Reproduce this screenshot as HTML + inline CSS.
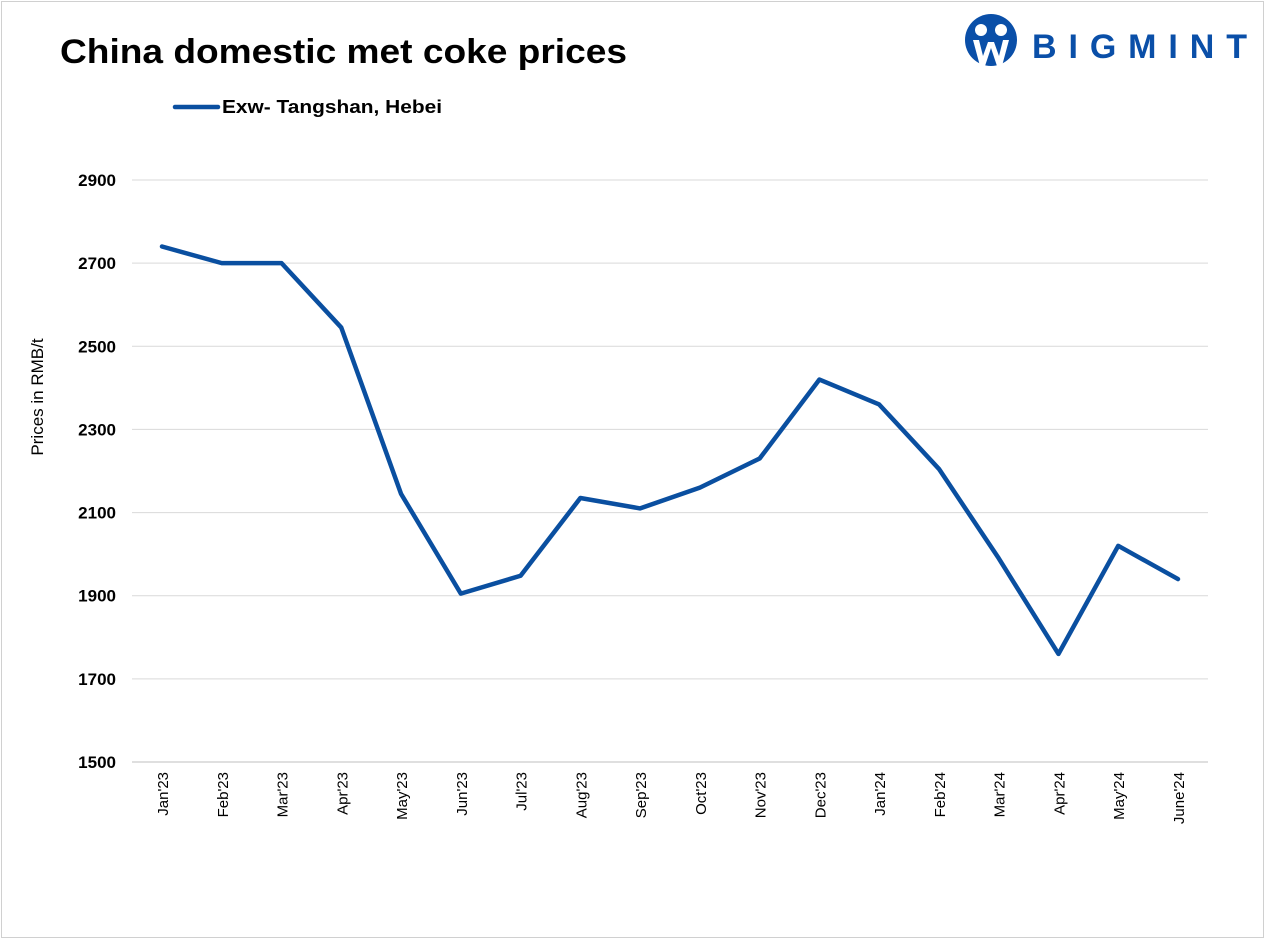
<!DOCTYPE html>
<html><head><meta charset="utf-8"><style>
body{margin:0;background:#fff;}
#c{position:relative;width:1265px;height:939px;overflow:hidden;background:#fff;}
</style></head><body>
<div id="c">
<svg width="1265" height="939" xmlns="http://www.w3.org/2000/svg" font-family="Liberation Sans, sans-serif" id="svg">
<rect x="1.5" y="1.5" width="1262" height="936" fill="#fff" stroke="#d0d0d0"/>
<text x="60" y="63" font-size="34" font-weight="bold" fill="#000" textLength="567" lengthAdjust="spacingAndGlyphs">China domestic met coke prices</text>
<g>
<circle cx="991" cy="40" r="26" fill="#0a4fa8"/>
<circle cx="981" cy="30" r="6" fill="#fff"/>
<circle cx="1001" cy="30" r="6" fill="#fff"/>
<path d="M973 40 L980 66 L985 66 L991 48 L997 66 L1002 66 L1009 40 L1003 40 L999 56 L994 42 L988 42 L983 56 L979 40Z" fill="#fff"/>
<text x="1032" y="58" font-size="34" font-weight="bold" fill="#0a4fa8" textLength="215" lengthAdjust="spacing">BIGMINT</text>
</g>
<g>
<line x1="175" y1="107" x2="218" y2="107" stroke="#0a4fa0" stroke-width="4.5" stroke-linecap="round"/>
<text x="222" y="113" font-size="18" font-weight="bold" fill="#000" textLength="220" lengthAdjust="spacingAndGlyphs">Exw- Tangshan, Hebei</text>
</g>
<text transform="translate(43,397) rotate(-90)" text-anchor="middle" font-size="17" fill="#000">Prices in RMB/t</text>
<g id="grid"></g><g id="xl"></g><g id="line"></g>
</svg>
</div>
<script>
const categories=["Jan'23","Feb'23","Mar'23","Apr'23","May'23","Jun'23","Jul'23","Aug'23","Sep'23","Oct'23","Nov'23","Dec'23","Jan'24","Feb'24","Mar'24","Apr'24","May'24","June'24"];
const prices=[2740,2700,2700,2545,2145,1905,1948,2135,2110,2160,2230,2420,2360,2205,1990,1760,2020,1940];
const yTicks=[1500,1700,1900,2100,2300,2500,2700,2900];
const NS="http://www.w3.org/2000/svg";
const y=v=>762-(v-1500)*(582/1400);
const x=i=>162+i*(1016/17);
function mk(t,a,p){const e=document.createElementNS(NS,t);for(const k in a)e.setAttribute(k,a[k]);p.appendChild(e);return e;}
const g=document.getElementById('grid');
yTicks.forEach(v=>{
 const l=mk('line',{x1:132,x2:1208,y1:y(v),y2:y(v),stroke:v===1500?'#bfbfbf':'#d9d9d9','stroke-width':1},g);
 
 
 const t=mk('text',{x:116,y:y(v)+6,'text-anchor':'end','font-size':17,'font-weight':'bold',fill:'#000'},g);
 t.textContent=v;
 
 
});
const xl=document.getElementById('xl');
categories.forEach((c,i)=>{
 const t=mk('text',{transform:`translate(${x(i)+6},772) rotate(-90)`,'text-anchor':'end','font-size':15,fill:'#000'},xl);
 t.textContent=c;
 
 
});
const pl=mk('polyline',{points:prices.map((v,i)=>x(i)+','+y(v)).join(' '),fill:'none',stroke:'#0a4fa0','stroke-width':4.5,'stroke-linejoin':'round','stroke-linecap':'round'},document.getElementById('line'));


</script>
</body></html>
